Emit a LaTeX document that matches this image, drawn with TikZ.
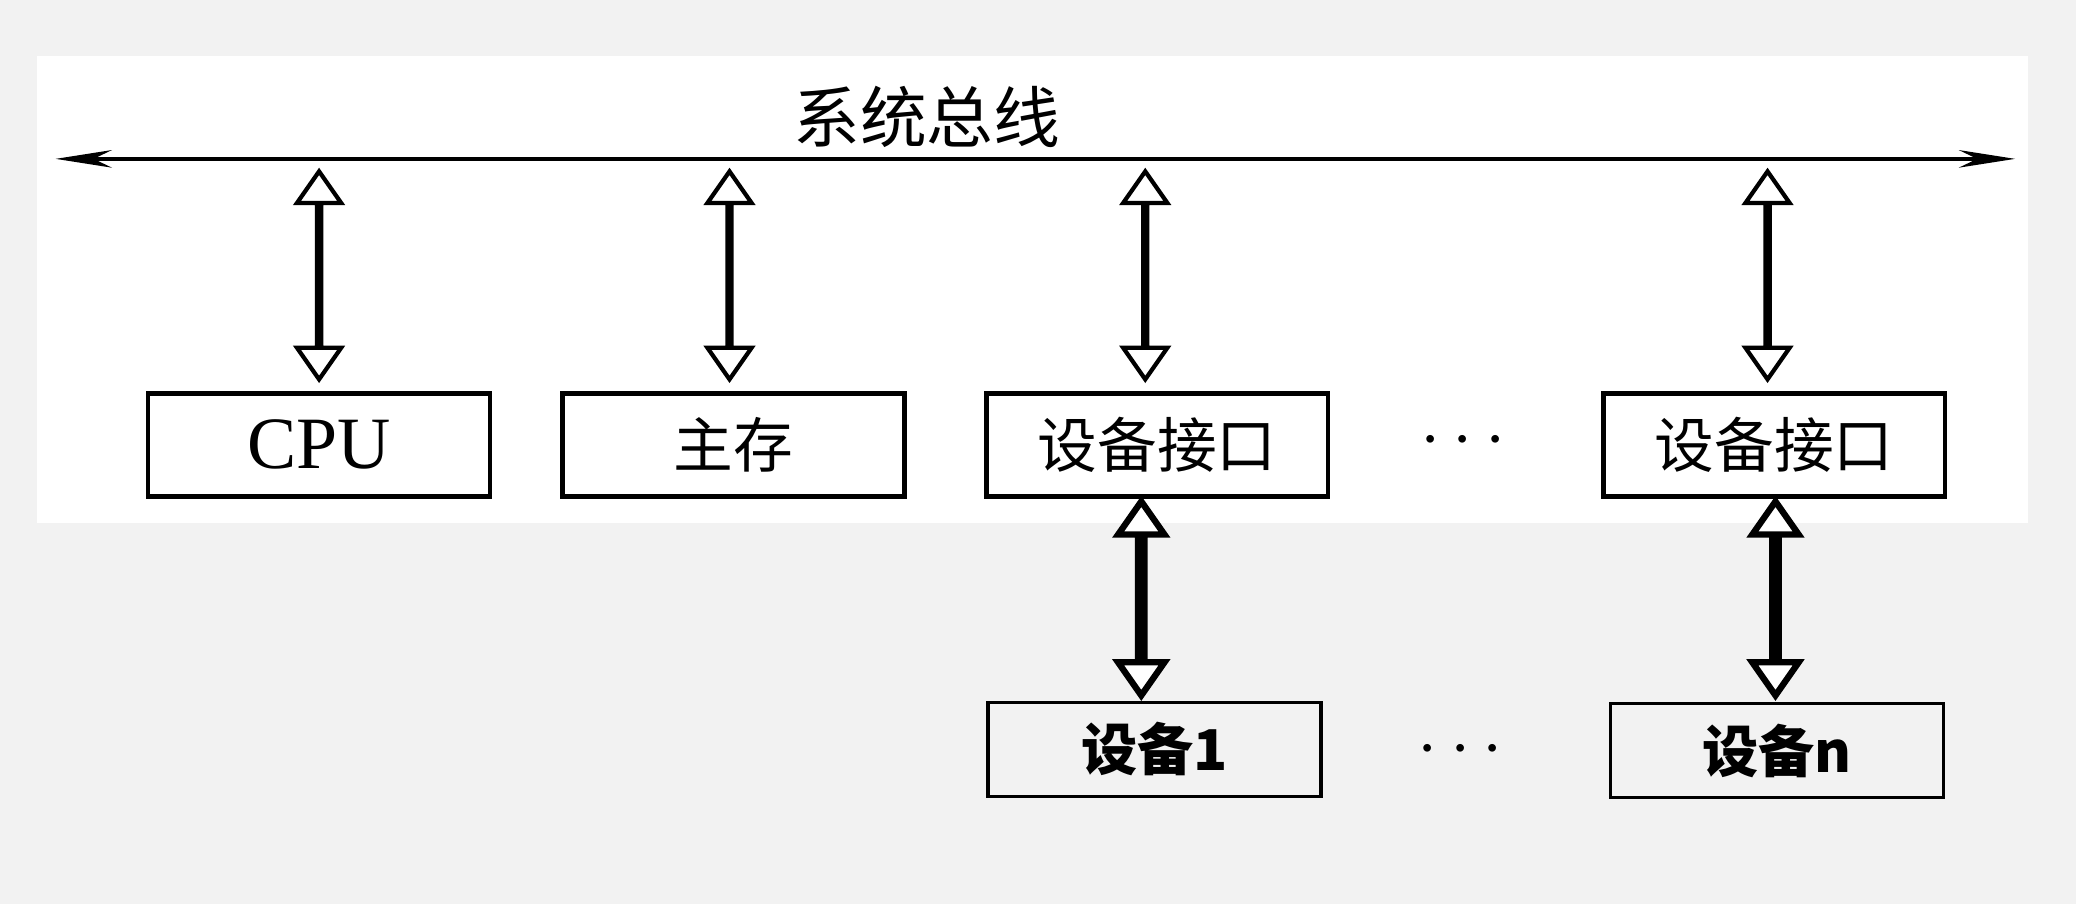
\documentclass[tikz,border=0pt]{standalone}
\usepackage{fontspec}
\setmainfont{Liberation Serif}
\newfontfamily\cjk{Noto Sans CJK SC}
\usepackage{tikz}
\usetikzlibrary{arrows.meta,positioning,shapes.arrows,calc}

\begin{document}
\begin{tikzpicture}[
    x=0.01324cm, y=-0.01324cm,
    box/.style={draw, line width=1.3pt, minimum width=3.42cm, minimum height=1.03cm, font=\cjk\fontsize{17}{20}\selectfont},
    dev/.style={draw, line width=1pt, minimum width=3.33cm, minimum height=0.94cm, font=\cjk\bfseries\fontsize{16}{18}\selectfont},
    link/.style={double arrow, draw, fill=white, line width=1.2pt, rotate=90, minimum width=0.26cm, double arrow head extend=0.2cm, double arrow tip angle=70, inner sep=0pt},
    bus/.style={{Stealth[length=16pt,width=5pt]}-{Stealth[length=16pt,width=5pt]}, line width=1pt}
]
    % background
    \fill[black!5] (0,0) rectangle (1568,683);
    \fill[white] (28,42) rectangle (1532,395);
    \useasboundingbox (0,0) rectangle (1568,683);

    % bus
    \coordinate (busL) at (42,120);
    \coordinate (busR) at (1522,120);
    \draw[bus] (busL) -- (busR);
    \node[font=\cjk\fontsize{19}{22}\selectfont] (buslabel) at (700,88) {系统总线};

    % modules
    \node[box, font=\fontsize{21}{24}\selectfont] (cpu) at (241,336) {CPU};
    \node[box] (mem) at (554,336) {主存};
    \node[box] (if1) at (874,336) {设备接口};
    \node[font=\fontsize{22}{24}\selectfont] (dots1) at (1105,333) {$\cdots$};
    \node[box] (ifn) at (1340,336) {设备接口};

    % devices
    \node[dev] (dev1) at (872,566) {设备1};
    \node[font=\fontsize{22}{24}\selectfont] (dots2) at (1103,567) {$\cdots$};
    \node[dev] (devn) at (1342,567) {设备n};

    % bus links
    \foreach \m/\x in {cpu/241, mem/551, if1/865, ifn/1335}
        \node[link, minimum height=2.08cm] (l-\m) at (\x,208) {};
    % device links
    \node[link, minimum height=1.94cm, line width=1.8pt] (d-1) at (862,452) {};
    \node[link, minimum height=1.94cm, line width=1.8pt] (d-n) at (1341,452) {};
\end{tikzpicture}
\end{document}
